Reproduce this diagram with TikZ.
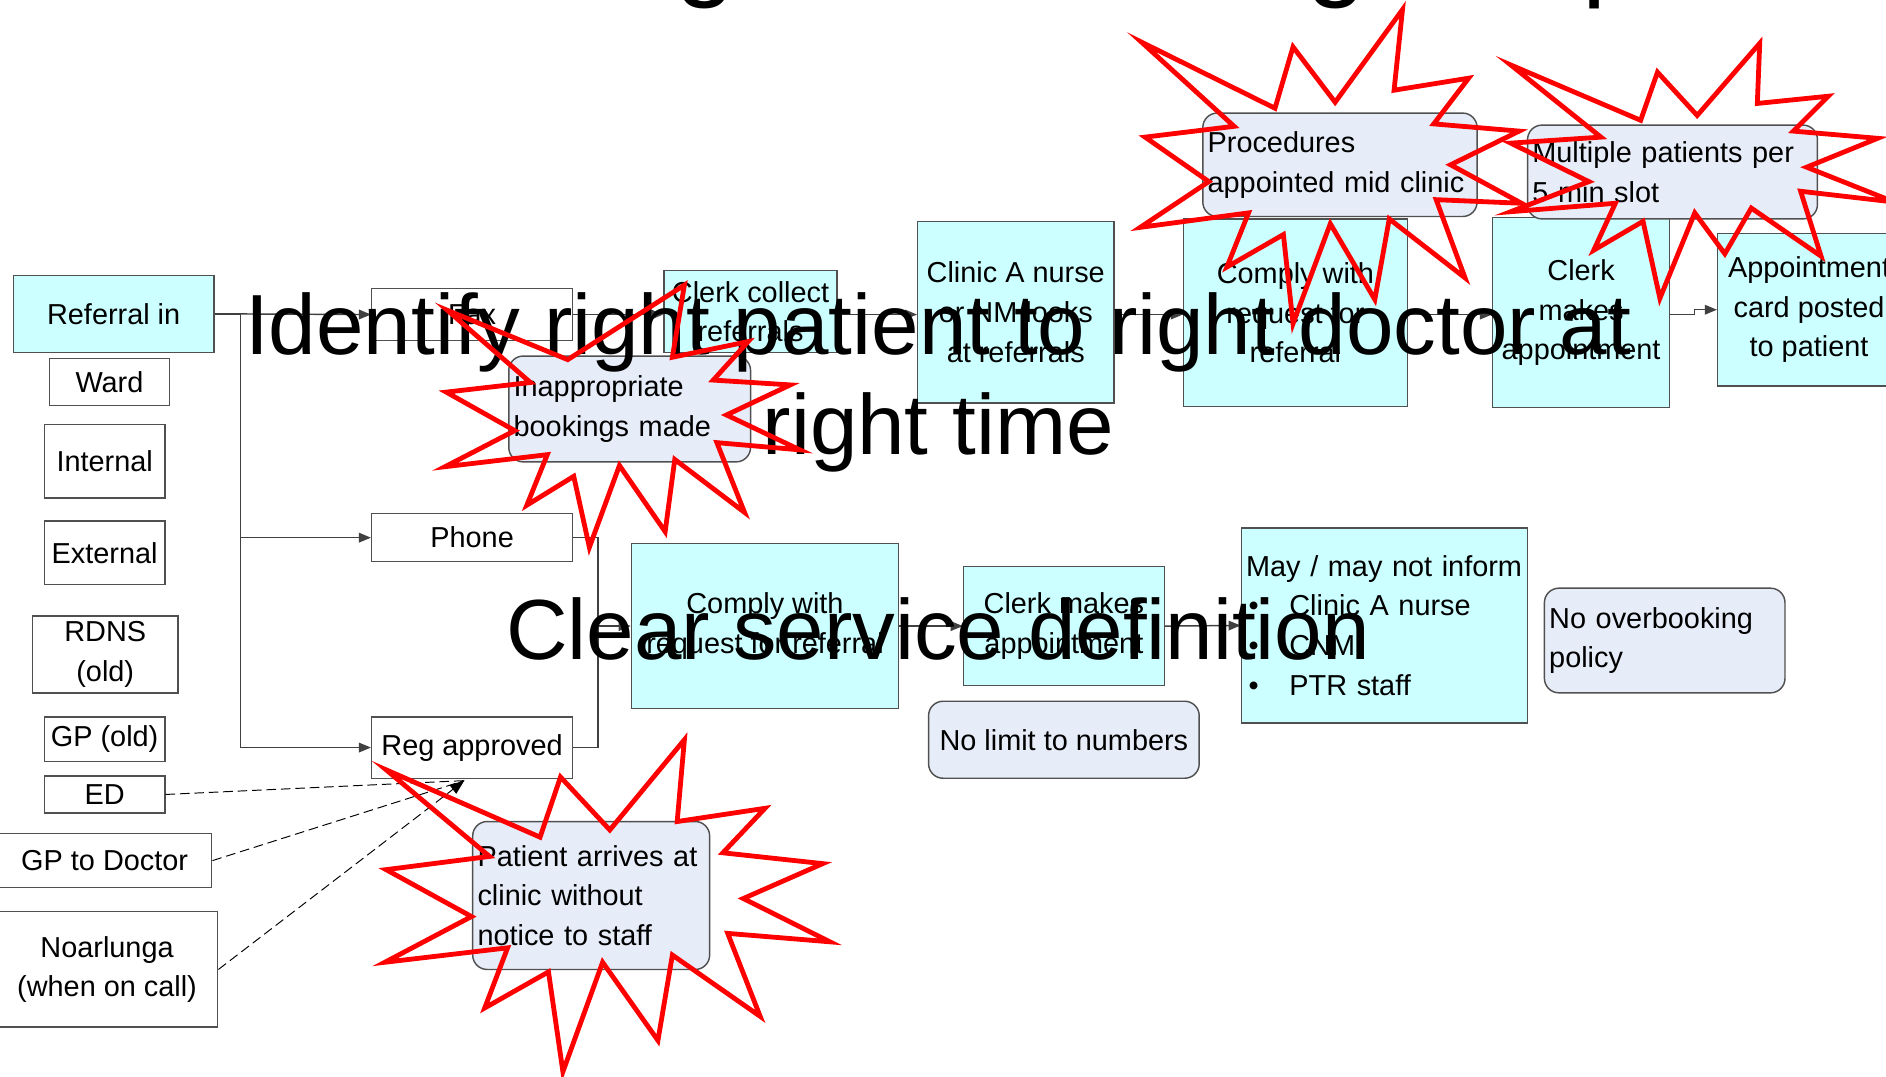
\documentclass[tikz,border=0pt]{standalone}
\usepackage{fontspec}
\setmainfont{Liberation Sans}
\usetikzlibrary{arrows.meta}
\definecolor{boxcyan}{RGB}{204,255,255}
\definecolor{calfill}{RGB}{230,236,248}
\definecolor{edgegray}{RGB}{80,80,80}
\begin{document}
\begin{tikzpicture}[x=0.5pt,y=-0.5pt,
  font=\fontsize{12}{16.5}\selectfont,
  plainbox/.style={draw=edgegray, line width=0.6pt, fill=white, inner sep=1pt, align=center},
  cybox/.style={plainbox, fill=boxcyan},
  callbox/.style={draw=edgegray, line width=0.6pt, fill=calfill, rounded corners=6pt, inner sep=2pt, align=left},
  conn/.style={draw=black!75, line width=0.6pt},
  arr/.style={conn, -{Triangle[length=5pt,width=4pt]}},
  dashline/.style={draw=black, line width=0.4pt, dash pattern=on 4pt off 2pt},
  boom/.style={draw=red, line width=2pt, line join=miter, miter limit=20},
  bigtext/.style={font=\fontsize{35.5}{41.5}\selectfont, inner sep=0pt, anchor=base},
  titleglyph/.style={font=\fontsize{45}{50}\selectfont, inner sep=0pt, anchor=base west}]
\useasboundingbox (0,0) rectangle (1568,895);
\fill[white] (0,0) rectangle (1568,895);

% clipped title glyphs at the very top
\node[titleglyph] (tg1) at (561,-11) {g};
\node[titleglyph] (tg2) at (1086,-11) {g};
\node[titleglyph] (tg3) at (1315,-11) {p};

% left column
\node[cybox, minimum width=83.5pt, minimum height=32pt] (ref) at (94.5,261) {Referral in};
\node[plainbox, minimum width=50pt, minimum height=19.5pt] (ward) at (91,317.5) {Ward};
\node[plainbox, minimum width=50pt, minimum height=30.5pt] (internal) at (87,383.5) {Internal};
\node[plainbox, minimum width=50pt, minimum height=26.5pt] (external) at (87,459.5) {External};
\node[plainbox, minimum width=60.5pt, minimum height=32pt] (rdns) at (87.5,544) {RDNS\\(old)};
\node[plainbox, minimum width=50pt, minimum height=18.5pt] (gpold) at (87,614.5) {GP (old)};
\node[plainbox, minimum width=50pt, minimum height=15.5pt] (ed) at (87,660.5) {ED};
\node[plainbox, minimum width=89pt, minimum height=22.5pt] (gpdoc) at (87,715.5) {GP to Doctor};
\node[plainbox, minimum width=92pt, minimum height=48pt] (noar) at (89,806) {Noarlunga\\(when on call)};

% channels
\node[plainbox, minimum width=83.5pt, minimum height=21.5pt] (fax) at (392.5,261.5) {Fax};
\node[plainbox, minimum width=83.5pt, minimum height=20pt] (phone) at (392.5,447) {Phone};
\node[plainbox, minimum width=83.5pt, minimum height=25.5pt] (reg) at (392.5,621.5) {Reg approved};

% top row
\node[cybox, minimum width=72pt, minimum height=34pt] (clerkcol) at (624,259) {Clerk collect\\referrals};
\node[cybox, minimum width=81.5pt, minimum height=75.5pt] (clinic) at (844.5,259.5) {Clinic A nurse\\or NM looks\\at referrals};
\node[cybox, minimum width=93pt, minimum height=78pt] (complytop) at (1077,260) {Comply with\\request for\\referral};
\node[cybox, minimum width=73.5pt, minimum height=79pt] (clerktop) at (1314.5,260) {Clerk\\makes\\appointment};
\node[cybox, minimum width=76pt, minimum height=63.5pt] (card) at (1504,257.5) {Appointment\\card posted\\to patient};

% middle row
\node[cybox, minimum width=111pt, minimum height=68.5pt] (complymid) at (636,520.5) {Comply with\\request for referral};
\node[cybox, minimum width=83.5pt, minimum height=49.5pt] (clerkmid) at (884.5,520.5) {Clerk makes\\appointment};
\node[cybox, minimum width=119pt, minimum height=81pt, align=left, text width=115pt, inner sep=2pt] (may) at (1151,520)
  {May / may not inform\\
   \hspace*{1pt}\makebox[17pt][l]{\textbullet}Clinic A nurse\\
   \hspace*{1pt}\makebox[17pt][l]{\textbullet}CNM\\
   \hspace*{1pt}\makebox[17pt][l]{\textbullet}PTR staff};
\node[callbox, minimum width=112.5pt, minimum height=32pt, align=center] (nolimit) at (884.5,615) {No limit to numbers};
\node[callbox, minimum width=100pt, minimum height=43.5pt, text width=96pt] (noover) at (1384,532.5) {No overbooking\\policy};

% connectors
\coordinate (split) at (200,261);
\coordinate (join) at (497,520.5);
\coordinate (dtip) at (386,649);
\draw[conn] (ref.east) -- (split);
\draw[arr] (split) -- (fax.west);
\draw[arr] (split) |- (phone.west);
\draw[arr] (split) |- (reg.west);
\draw[arr] (fax.east) -- (clerkcol.west |- fax.east);
\draw[arr] (clerkcol.east |- fax.east) -- (clinic.west |- fax.east);
\draw[arr] (clinic.east |- fax.east) -- (complytop.west |- fax.east);
\draw[arr] (complytop.east |- fax.east) -- (clerktop.west |- fax.east);
\draw[arr] (clerktop.east |- fax.east) -- ++(20,0) |- (card.west);
\draw[conn] (phone.east) -| (join);
\draw[conn] (reg.east) -| (join);
\draw[arr] (join) -- (complymid.west);
\draw[arr] (complymid.east) -- (clerkmid.west);
\draw[arr] (clerkmid.east) -- (may.west);
\draw[dashline] (ed.east) -- (dtip);
\draw[dashline] (gpdoc.east) -- (dtip);
\draw[dashline, -{Triangle[length=6pt,width=4.5pt]}] (noar.east) -- (dtip);

% problem callouts
\node[callbox, minimum width=114pt, minimum height=43pt, text width=110pt] (proc) at (1114,137) {Procedures\\appointed mid clinic};
\node[callbox, minimum width=120.5pt, minimum height=39pt, text width=116.5pt] (multi) at (1390.5,143) {Multiple patients per\\5 min slot};
\node[callbox, minimum width=100.5pt, minimum height=44pt, text width=96.5pt] (inapp) at (523.5,340) {Inappropriate\\bookings made};
\node[callbox, minimum width=98.5pt, minimum height=61.5pt, text width=94.5pt] (patient) at (491.5,744.5) {Patient arrives at\\clinic without\\notice to staff};

% big overlay texts
\node[bigtext] (goal1a) at (780,295) {Identify right patient to right doctor at};
\node[bigtext] (goal1b) at (780,378) {right time};
\node[bigtext] (goal2) at (780,548) {Clear service definition};

% explosion outlines
\draw[boom] (372,258) -- (472,299) -- (569,237) -- (559,297) -- (622,284) -- (593,316) -- (657,320) -- (604,345) -- (665,374) -- (596,368) -- (619,426) -- (561,382) -- (553,442) -- (515,387) -- (490,455) -- (477,396) -- (438,420) -- (455,378) -- (370,388) -- (428,358) -- (371,326) -- (441,318) -- cycle;
\draw[boom] (949,35) -- (1060,90) -- (1075,39) -- (1110,85) -- (1166,8) -- (1159,75) -- (1221,65) -- (1192,103) -- (1263,109) -- (1206,137) -- (1265,169) -- (1194,166) -- (1218,231) -- (1155,182) -- (1143,249) -- (1106,186) -- (1075,269) -- (1067,195) -- (1020,222) -- (1038,177) -- (948,189) -- (1005,151) -- (952,114) -- (1026,105) -- cycle;
\draw[boom] (1256,54) -- (1364,100) -- (1378,60) -- (1411,96) -- (1463,36) -- (1461,86) -- (1520,80) -- (1491,109) -- (1561,115) -- (1502,139) -- (1575,168) -- (1497,159) -- (1514,213) -- (1456,173) -- (1434,211) -- (1409,177) -- (1380,248) -- (1366,184) -- (1325,208) -- (1343,169) -- (1256,176) -- (1321,151) -- (1256,119) -- (1331,114) -- cycle;
\draw[boom] (321,640) -- (449,696) -- (466,646) -- (507,690) -- (569,615) -- (563,683) -- (636,672) -- (601,709) -- (684,718) -- (618,747) -- (690,783) -- (605,776) -- (632,845) -- (559,794) -- (547,865) -- (501,800) -- (468,891) -- (456,808) -- (403,838) -- (422,788) -- (320,800) -- (392,762) -- (321,723) -- (407,712) -- cycle;
\end{tikzpicture}
\end{document}
